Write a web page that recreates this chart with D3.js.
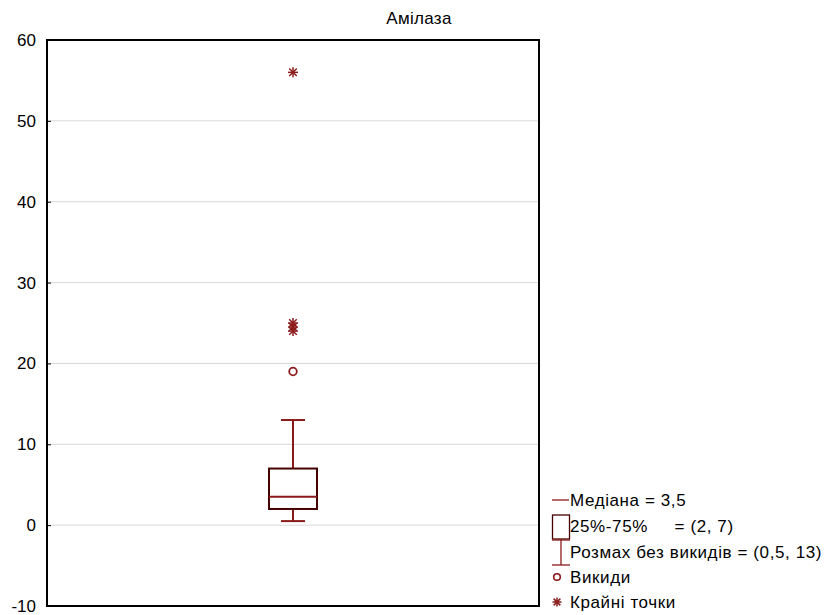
<!DOCTYPE html>
<html><head><meta charset="utf-8">
<script src="https://cdn.jsdelivr.net/npm/d3@7"></script>
<style>body{margin:0;background:#fff}svg{display:block}text{font-family:"Liberation Sans",Arial,sans-serif}</style>
</head><body><svg id="c" width="830" height="615"></svg>
<script>
const categories = ["Амілаза"];
const medians = [3.5];
const q1s = [2];
const q3s = [7];
const whiskLow = [0.5];
const whiskHigh = [13];
const outliers = [19];
const extremes = [56, 25, 24.5, 24];
const yTicks = [-10, 0, 10, 20, 30, 40, 50, 60];
const legendLabels = ["Медіана = 3,5", "25%-75%     = (2, 7)", "Розмах без викидів = (0,5, 13)", "Викиди", "Крайні точки"];

const svg = d3.select("#c");
const L = 47, R = 539, T = 40, B = 606;
const FS = 17;
const y = d3.scaleLinear().domain([-10, 60]).range([B, T]);
const x = d3.scaleBand().domain(categories).range([L, R]);
const red = "#8b1a1a", dark = "#450000";

// grid
svg.append("g").selectAll("line").data(yTicks.filter(d => d > -10 && d < 60)).join("line")
  .attr("x1", L).attr("x2", R).attr("y1", d => y(d)).attr("y2", d => y(d))
  .attr("stroke", "#d8d8d8").attr("stroke-width", 1);

// axis
const ax = svg.append("g").attr("transform", `translate(${L},0)`)
  .call(d3.axisLeft(y).tickValues(yTicks).tickFormat(d => String(d)).tickSize(-4).tickPadding(11));
ax.select(".domain").remove();
ax.selectAll("text").attr("font-size", FS).attr("fill", "#000").attr("font-family", "Liberation Sans, Arial, sans-serif");
ax.selectAll("line").attr("stroke", "#000");

// frame
svg.append("rect").attr("x", L).attr("y", T).attr("width", R - L).attr("height", B - T)
  .attr("fill", "none").attr("stroke", "#000").attr("stroke-width", 2);

// title
svg.append("text").attr("x", 419).attr("y", 24).attr("text-anchor", "middle")
  .attr("font-size", FS).style("letter-spacing", "0.3px").text(categories[0]);

// box
categories.forEach((c, i) => {
  const cx = x(c) + x.bandwidth() / 2;
  const bw = 48, cw = 24;
  const g = svg.append("g");
  g.append("line").attr("x1", cx).attr("x2", cx).attr("y1", y(whiskHigh[i])).attr("y2", y(q3s[i])).attr("stroke", red).attr("stroke-width", 2);
  g.append("line").attr("x1", cx).attr("x2", cx).attr("y1", y(whiskLow[i])).attr("y2", y(q1s[i])).attr("stroke", red).attr("stroke-width", 2);
  g.append("line").attr("x1", cx - cw/2).attr("x2", cx + cw/2).attr("y1", y(whiskHigh[i])).attr("y2", y(whiskHigh[i])).attr("stroke", red).attr("stroke-width", 2);
  g.append("line").attr("x1", cx - cw/2).attr("x2", cx + cw/2).attr("y1", y(whiskLow[i])).attr("y2", y(whiskLow[i])).attr("stroke", red).attr("stroke-width", 2);
  g.append("rect").attr("x", cx - bw/2).attr("y", y(q3s[i])).attr("width", bw).attr("height", y(q1s[i]) - y(q3s[i]))
    .attr("fill", "#fff").attr("stroke", dark).attr("stroke-width", 2);
  g.append("line").attr("x1", cx - bw/2).attr("x2", cx + bw/2).attr("y1", y(medians[i])).attr("y2", y(medians[i])).attr("stroke", red).attr("stroke-width", 2);
  g.selectAll("circle.o").data(outliers).join("circle").attr("cx", cx).attr("cy", d => y(d)).attr("r", 3.8)
    .attr("fill", "none").attr("stroke", red).attr("stroke-width", 1.8);
  g.selectAll("g.e").data(extremes).join("g").attr("transform", d => `translate(${cx},${y(d)})`)
    .each(function(){ star(d3.select(this), 5); });
});

function star(s, r){
  [[-r,0,r,0],[0,-r,0,r],[-r*0.75,-r*0.75,r*0.75,r*0.75],[-r*0.75,r*0.75,r*0.75,-r*0.75]].forEach(p=>{
    s.append("line").attr("x1",p[0]).attr("y1",p[1]).attr("x2",p[2]).attr("y2",p[3]).attr("stroke",red).attr("stroke-width",1.5);
  });
}

// legend
const lg = svg.append("g");
const ly = [500, 526, 552, 577, 602];
lg.append("line").attr("x1", 552).attr("x2", 569).attr("y1", ly[0]).attr("y2", ly[0]).attr("stroke", red).attr("stroke-width", 1.3);
lg.append("rect").attr("x", 552.5).attr("y", 515).attr("width", 17).attr("height", 24).attr("fill", "none").attr("stroke", dark).attr("stroke-width", 1.3);
lg.append("line").attr("x1", 561).attr("x2", 561).attr("y1", 539).attr("y2", 565).attr("stroke", red).attr("stroke-width", 1.3);
lg.append("line").attr("x1", 552).attr("x2", 570).attr("y1", 540).attr("y2", 540).attr("stroke", red).attr("stroke-width", 1.3);
lg.append("line").attr("x1", 552).attr("x2", 570).attr("y1", 565).attr("y2", 565).attr("stroke", red).attr("stroke-width", 1.3);
lg.append("circle").attr("cx", 557).attr("cy", ly[3]).attr("r", 3.3).attr("fill", "none").attr("stroke", red).attr("stroke-width", 1.6);
star(lg.append("g").attr("transform", `translate(557,${ly[4]})`), 4.5);
lg.selectAll("text").data(legendLabels).join("text").attr("x", 570).attr("y", (d, i) => ly[i] + 6)
  .attr("font-size", FS).attr("fill", "#000").style("white-space", "pre").style("letter-spacing", "0.6px").text(d => d);
</script></body></html>
